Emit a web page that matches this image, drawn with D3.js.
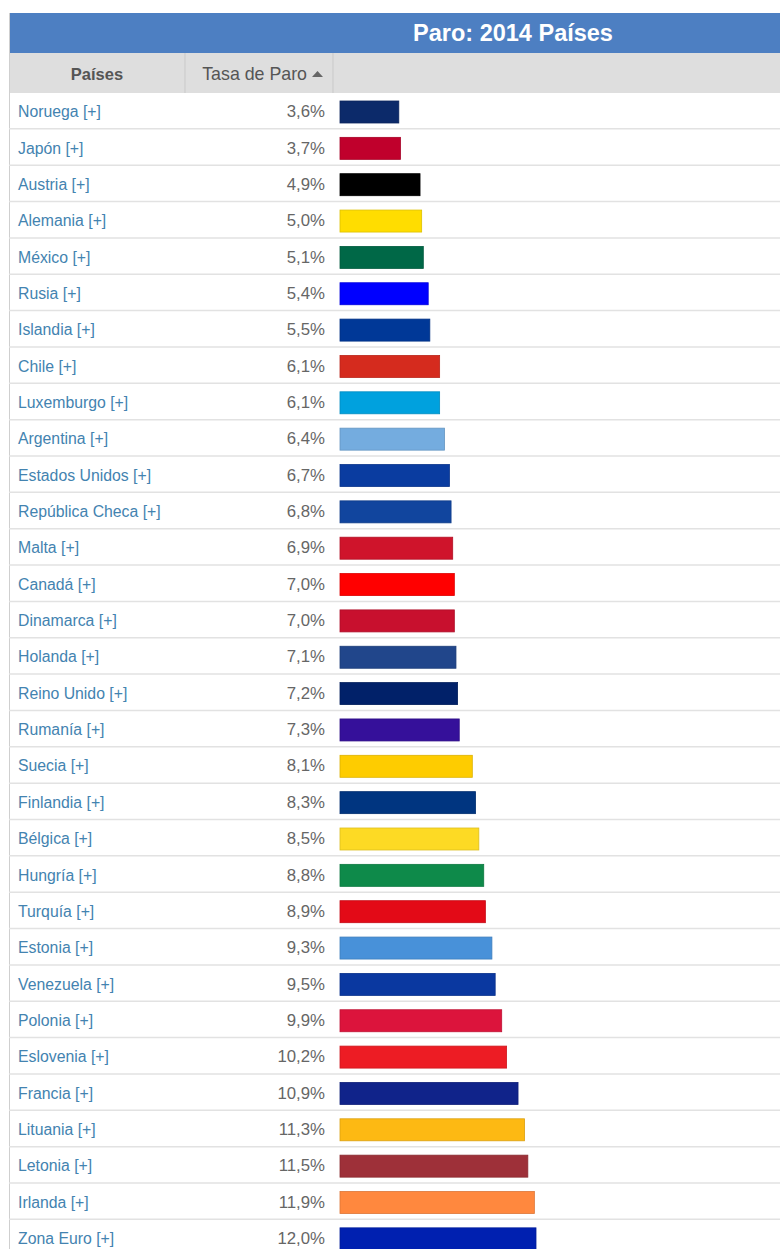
<!DOCTYPE html>
<html><head><meta charset="utf-8">
<script src="https://cdn.jsdelivr.net/npm/d3@7"></script>
<style>
html,body{margin:0;padding:0;background:#fff;overflow:hidden}
svg{display:block;font-family:"Liberation Sans",Arial,sans-serif}
</style></head>
<body><svg id="c" width="780" height="1249"></svg>
<script>
const title = "Paro: 2014 Países";
const colHeaders = ["Países", "Tasa de Paro"];
const countries = ["Noruega","Japón","Austria","Alemania","México","Rusia","Islandia","Chile","Luxemburgo","Argentina","Estados Unidos","República Checa","Malta","Canadá","Dinamarca","Holanda","Reino Unido","Rumanía","Suecia","Finlandia","Bélgica","Hungría","Turquía","Estonia","Venezuela","Polonia","Eslovenia","Francia","Lituania","Letonia","Irlanda","Zona Euro"];
const rates = [3.6,3.7,4.9,5.0,5.1,5.4,5.5,6.1,6.1,6.4,6.7,6.8,6.9,7.0,7.0,7.1,7.2,7.3,8.1,8.3,8.5,8.8,8.9,9.3,9.5,9.9,10.2,10.9,11.3,11.5,11.9,12.0];
const colors = ["#0c2a6a","#c0002c","#000000","#ffdd00","#006847","#0000ff","#003897","#d52b1e","#00a1de","#74acdf","#0a3ca0","#11459e","#cf142b","#ff0000","#c8102e","#21468b","#012169","#35109a","#fecc00","#003580","#fdda24","#0e8a4a","#e30a17","#4891d9","#0a38a0","#dc143c","#ed1c24","#10238a","#fdb913","#9e3039","#ff883e","#0020b0"];

const svg = d3.select("#c");
const L = 9, R = 780;
const rowTop = 93, rowH = 36.35;
const y = d3.scaleBand().domain(countries).range([rowTop, rowTop + rowH*countries.length]).padding(0);
const x = d3.scaleLinear().domain([0, 12]).range([340, 536]);

// title bar
svg.append("rect").attr("x", L).attr("y", 13).attr("width", R-L).attr("height", 40).attr("fill", "#4d7fc2");
svg.append("text").attr("x", 513).attr("y", 41).attr("text-anchor","middle")
  .attr("fill","#fff").attr("font-weight","bold").attr("font-size", 23.5).text(title);

// header row
svg.append("rect").attr("x", L).attr("y", 53).attr("width", R-L).attr("height", 40).attr("fill", "#dedede");
[185, 333].forEach(v => svg.append("line").attr("x1", v).attr("x2", v).attr("y1", 53).attr("y2", 93).attr("stroke","#c9c9c9"));
svg.append("text").attr("x", 97).attr("y", 80).attr("text-anchor","middle").attr("fill","#555")
  .attr("font-weight","bold").attr("font-size",16.5).text(colHeaders[0]);
svg.append("text").attr("x", 307).attr("y", 80).attr("text-anchor","end").attr("fill","#555")
  .attr("font-size",17.8).text(colHeaders[1]);
svg.append("path").attr("d","M312,77 L323,77 L317.5,71 Z").attr("fill","#666");

// left border
svg.append("line").attr("x1", L+0.5).attr("x2", L+0.5).attr("y1", 13).attr("y2", 1249).attr("stroke","#cfcfcf");

const rows = svg.append("g").selectAll("g").data(countries).join("g")
  .attr("transform", d => `translate(0,${y(d)})`);

rows.append("line").attr("x1", L).attr("x2", R).attr("y1", rowH-0.5).attr("y2", rowH-0.5)
  .attr("stroke","#e2e2e2").attr("stroke-width",1.5);

rows.append("text").attr("x", 18).attr("y", rowH/2+6).attr("fill","#4383b0").attr("font-size",15.8)
  .text(d => d + " [+]");

rows.append("text").attr("x", 325).attr("y", rowH/2+6).attr("text-anchor","end").attr("fill","#666").attr("font-size",16.8)
  .text((d,i) => rates[i].toFixed(1).replace(".", ",") + "%");

rows.append("rect").attr("x", x(0)).attr("y", 8).attr("height", 22)
  .attr("width", (d,i) => x(rates[i]) - x(0))
  .attr("fill", (d,i) => colors[i])
  .attr("stroke", (d,i) => d3.color(colors[i]).darker(0.4))
  .attr("stroke-width", 0.8);
</script></body></html>
